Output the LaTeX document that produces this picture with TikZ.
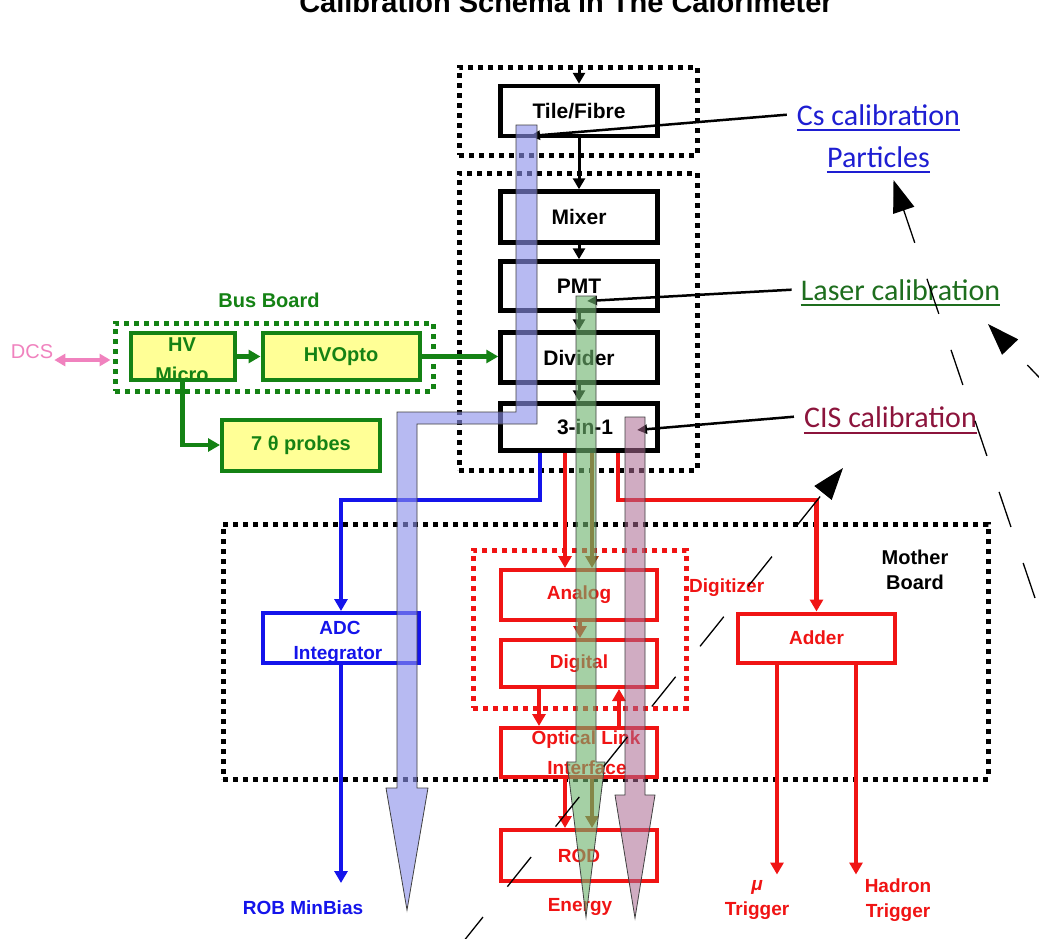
\documentclass[tikz,border=0pt]{standalone}
\usepackage{fontspec}
\setmainfont{Liberation Sans}
\newfontfamily\calibri{Carlito}
\usetikzlibrary{arrows.meta}

\definecolor{busgreen}{RGB}{20,130,20}
\definecolor{boxyellow}{RGB}{255,255,150}
\definecolor{sigred}{RGB}{240,20,20}
\definecolor{sigbrown}{RGB}{170,60,10}
\definecolor{sigblue}{RGB}{20,20,235}
\definecolor{dcspink}{RGB}{240,130,190}
\definecolor{csblue}{RGB}{30,30,210}
\definecolor{lasergreen}{RGB}{30,110,30}
\definecolor{ciswine}{RGB}{140,20,60}
\definecolor{csfill}{RGB}{140,145,235}
\definecolor{laserfill}{RGB}{110,180,110}
\definecolor{cisfill}{RGB}{170,105,145}

\tikzset{
  lbl/.style={font=\bfseries\fontsize{20}{25}\selectfont, inner sep=0pt, align=center},
  blkbox/.style={draw=black, line width=4.5pt, minimum width=157pt, inner sep=0pt,
    font=\bfseries\fontsize{21}{24}\selectfont},
  grnbox/.style={draw=busgreen, fill=boxyellow, line width=4pt, inner sep=0pt,
    text=busgreen, font=\bfseries\fontsize{20}{24}\selectfont},
  redbox/.style={draw=sigred, line width=4pt, minimum width=156pt, inner sep=0pt,
    text=sigred, font=\bfseries\fontsize{19}{24}\selectfont},
  bluebox/.style={draw=sigblue, line width=4pt, minimum width=156pt, inner sep=0pt},
  dotbox/.style={draw=#1, line width=5pt, dash pattern=on 5pt off 5pt, inner sep=0pt},
  dotbox/.default=black,
  calib/.style={font=\calibri\fontsize{30}{34}\selectfont, inner sep=0pt, anchor=base},
  flow/.style={draw=#1, line width=4.5pt, -{Triangle[length=12pt,width=13pt]}},
  blkflow/.style={draw=black, line width=3pt, -{Triangle[length=11pt,width=12pt]}},
  pointer/.style={draw=black, line width=2.5pt, -{Triangle[length=10pt,width=9pt]}},
  bar/.style={fill=#1, fill opacity=0.62, draw=black!75, line width=0.8pt},
  stray/.style={draw=black, line width=1.3pt, -{Triangle[length=32pt,width=22pt]}}
}

\begin{document}
\begin{tikzpicture}[x=1pt,y=-1pt]
\useasboundingbox (0,0) rectangle (1039,938);
\fill[white] (0,0) rectangle (1039,938);
\clip (0,0) rectangle (1039,938);

% heading, cut by the top edge
\node[lbl, anchor=base, font=\bfseries\fontsize{29}{32}\selectfont] (title) at (566,12)
  {Calibration Schema in The Calorimeter};

% grouping frames
\node[dotbox, minimum width=238pt, minimum height=88pt] (tilegrp) at (578,111) {};
\node[dotbox, minimum width=238pt, minimum height=297pt] (pmtgrp) at (578,321.5) {};
\node[dotbox, minimum width=765pt, minimum height=255pt] (mbgrp) at (605.5,651.5) {};
\node[dotbox=sigred, minimum width=213pt, minimum height=158pt] (diggrp) at (579.5,629) {};
\node[dotbox=busgreen, minimum width=318pt, minimum height=68pt] (busgrp) at (274,357) {};

% detector chain
\node[blkbox, minimum height=50pt] (tile) at (579,111) {Tile/Fibre};
\node[blkbox, minimum height=51pt] (mixer) at (579,217) {Mixer};
\node[blkbox, minimum height=49pt] (pmt) at (579,286) {PMT};
\node[blkbox, minimum height=50pt] (divider) at (579,357.5) {Divider};
\node[blkbox, minimum height=47pt] (threein1) at (579,427) {\hspace{12pt}3-in-1};

\draw[blkflow] (tile.north |- tilegrp.north) -- (tile.north);
\draw[blkflow] (tile.south) -- (mixer.north);
\draw[blkflow] (mixer.south) -- (pmt.north);
\draw[blkflow] (pmt.south) -- (divider.north);
\draw[blkflow] (divider.south) -- (threein1.north);

% bus board
\node[lbl, text=busgreen] (buslbl) at (269,300) {Bus Board};
\node[grnbox, minimum width=104pt, minimum height=47pt] (hvmicro) at (182.5,356.5) {};
\node[grnbox, minimum width=157pt, minimum height=47pt] (hvopto) at (341,356.5) {HVOpto};
\node[grnbox, minimum width=158pt, minimum height=51pt] (probes) at (301,445) {7 θ probes};
\node[lbl, text=busgreen] (hvtxt) at (182,345) {HV};
\node[lbl, text=busgreen] (microtxt) at (182,374) {Micro};
\node[lbl, text=dcspink, font=\fontsize{20}{22}\selectfont, inner sep=1pt] (dcs) at (32,352) {DCS};

\draw[flow=busgreen] (hvmicro.east) -- (hvopto.west);
\draw[flow=busgreen] (hvopto.east) -- (hvopto.east -| divider.west);
\draw[flow=busgreen] (hvmicro.south) |- (probes.west);
\draw[draw=dcspink, line width=3.5pt, {Triangle[length=11pt,width=12pt]}-{Triangle[length=11pt,width=12pt]}, shorten >=2pt]
  ([yshift=-8pt]dcs.east) -- ([yshift=-3pt]busgrp.west);

% mother board
\node[lbl] (mblbl) at (915,570) {Mother\\Board};
\node[bluebox, minimum height=50pt] (adc) at (341,638) {};
\node[lbl, text=sigblue, font=\bfseries\fontsize{19}{24}\selectfont] (adctxt) at (340,628) {ADC};
\node[lbl, text=sigblue, font=\bfseries\fontsize{19}{24}\selectfont] (integtxt) at (338,655) {Integrator};
\node[lbl, text=sigblue, font=\bfseries\fontsize{19}{24}\selectfont] (rob) at (303,908) {ROB MinBias};

\node[redbox, minimum height=50pt] (analog) at (579,595) {Analog};
\node[redbox, minimum height=47pt] (digital) at (579,663.5) {Digital};
\node[redbox, minimum height=49pt] (optical) at (579,752.5) {};
\node[lbl, text=sigred, font=\bfseries\fontsize{19}{24}\selectfont] (opttxt) at (586,740) {Optical Link};
\node[lbl, text=sigred, font=\bfseries\fontsize{19}{24}\selectfont] (inttxt) at (587,768) {Interface};
\node[redbox, minimum height=51pt] (rod) at (579,855.5) {ROD};
\node[lbl, text=sigred, font=\bfseries\fontsize{19}{24}\selectfont] (energy) at (580,907) {Energy};
\node[lbl, text=sigred, font=\bfseries\fontsize{19}{24}\selectfont, anchor=west] (digilbl) at (689,588) {Digitizer};
\node[redbox, minimum width=157pt, minimum height=49pt] (adder) at (816.5,638) {Adder};
\node[lbl, text=sigred, font=\bfseries\fontsize{19}{25}\selectfont] (mutrig) at (757,900) {\itshape μ\\Trigger};
\node[lbl, text=sigred, font=\bfseries\fontsize{19}{25}\selectfont] (hadtrig) at (898,900) {Hadron\\Trigger};

% readout signals
\draw[flow=sigblue] ([xshift=-39pt]threein1.south) -- ++(0,47) -| (adc.north);
\draw[flow=sigblue] (adc.south) -- ++(0,218);
\draw[flow=sigred] ([xshift=39pt]threein1.south) -- ++(0,47) -| (adder.north);
\draw[flow=sigred] ([xshift=-14pt]threein1.south) -- ([xshift=-14pt]analog.north);
\draw[flow=sigbrown] ([xshift=13pt]threein1.south) -- ([xshift=13pt]analog.north);
\draw[flow=sigred] ([xshift=1pt]analog.south) -- ([xshift=1pt]digital.north);
\draw[flow=sigred] ([xshift=-40pt]digital.south) -- ([xshift=-40pt]optical.north);
\draw[flow=sigred] ([xshift=40pt]optical.north) -- ([xshift=40pt]digital.south);
\draw[flow=sigred] ([xshift=-14pt]optical.south) -- ([xshift=-14pt]rod.north);
\draw[flow=sigbrown] ([xshift=13pt]optical.south) -- ([xshift=13pt]rod.north);
\draw[flow=sigred] ([xshift=-39.5pt]adder.south) -- ++(0,210);
\draw[flow=sigred] ([xshift=39.5pt]adder.south) -- ++(0,210);

% calibration labels
\node[calib, text=csblue] (cslbl) at (878.5,125) {Cs calibration};
\node[calib, text=csblue] (partlbl) at (878.5,167) {Particles};
\node[calib, text=lasergreen] (laserlbl) at (900.5,300) {Laser calibration};
\node[calib, text=ciswine] (cislbl) at (890.5,427) {CIS calibration};
\draw[csblue, line width=1.5pt] ([yshift=-5pt]cslbl.base west) -- ([yshift=-5pt]cslbl.base east);
\draw[csblue, line width=1.5pt] ([yshift=-5pt]partlbl.base west) -- ([yshift=-5pt]partlbl.base east);
\draw[lasergreen, line width=1.5pt] ([yshift=-5pt]laserlbl.base west) -- ([yshift=-5pt]laserlbl.base east);
\draw[ciswine, line width=1.5pt] ([yshift=-6pt]cislbl.base west) -- ([yshift=-6pt]cislbl.base east);

\coordinate (csend) at (530,136);
\coordinate (laserend) at (587,301);
\coordinate (cisend) at (637,430);
\draw[pointer] ([xshift=-10pt]cslbl.west) -- (csend);
\draw[pointer] ([xshift=-9pt]laserlbl.west) -- (laserend);
\draw[pointer] ([xshift=-10pt]cislbl.west) -- (cisend);

% calibration paths through the chain
\filldraw[bar=csfill] (516,125) -- (537,125) -- (537,424) -- (417,424) -- (417,788)
  -- (428,788) -- (407,910) -- (386,788) -- (397,788) -- (397,412) -- (516,412) -- cycle;
\filldraw[bar=laserfill] (576,296) -- (596,296) -- (596,762) -- (605,762) -- (586,917)
  -- (567,762) -- (576,762) -- cycle;
\filldraw[bar=cisfill, fill opacity=0.55] (625,417) -- (645,417) -- (645,795) -- (655,795) -- (635,918)
  -- (615,795) -- (625,795) -- cycle;

% long dashed arrows
\coordinate (s1) at (459.2,946.7);
\coordinate (e1) at (843,468);
\coordinate (s2) at (1035,598);
\coordinate (e2) at (893.5,180);
\coordinate (s3) at (1052.9,391.7);
\coordinate (e3) at (988,324);
\draw[stray, dash pattern=on 38pt off 39pt] (s1) -- (e1);
\draw[stray, dash pattern=on 37pt off 38pt] (s2) -- (e2);
\draw[stray, dash pattern=on 37pt off 38pt] (s3) -- (e3);
\end{tikzpicture}
\end{document}
